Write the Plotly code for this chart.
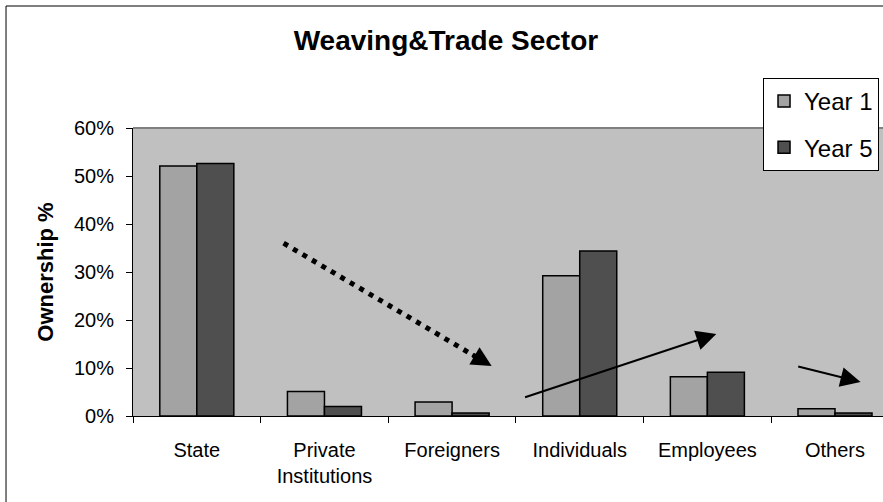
import plotly.graph_objects as go

# Ownership shares (fractions of 1)
categories = ["State", "Private<br>Institutions", "Foreigners", "Individuals", "Employees", "Others"]
year1 = [0.521, 0.051, 0.029, 0.292, 0.082, 0.015]
year5 = [0.526, 0.020, 0.006, 0.344, 0.091, 0.006]

# Trend arrows (tail x/y, head x/y) in data coordinates
dotted_arrow = (0.68, 0.36, 2.31, 0.104)
solid_arrows = [
    (2.56, 0.038, 4.07, 0.171),
    (4.70, 0.104, 5.20, 0.071),
]

FONT = "Liberation Sans, Arial, sans-serif"

fig = go.Figure()
fig.add_bar(
    x=categories, y=year1, name="Year 1", legendgroup="y1",
    marker=dict(color="#a3a3a3", line=dict(color="black", width=1.5)),
)
fig.add_bar(
    x=categories, y=year5, name="Year 5", legendgroup="y5",
    marker=dict(color="#4f4f4f", line=dict(color="black", width=1.5)),
)

fig.update_layout(
    width=883, height=502,
    margin=dict(l=133, r=0, t=128, b=86),
    paper_bgcolor="white", plot_bgcolor="#c0c0c0",
    font=dict(family=FONT, color="black", size=20),
    bargap=0.42, bargroupgap=0,
    title=dict(
        text="<b>Weaving&Trade Sector</b>", x=0.505, xref="container",
        y=0.92, yref="container", xanchor="center", yanchor="middle",
        font=dict(size=28, family=FONT),
    ),
    legend=dict(
        x=0.9947, xanchor="right", y=1.1736, yanchor="top",
        bgcolor="white", bordercolor="black", borderwidth=1,
        font=dict(size=24), tracegroupgap=12, traceorder="grouped",
    ),
    showlegend=True,
)

fig.update_xaxes(
    range=[-0.5, 5.376], showline=True, linecolor="black", linewidth=1,
    ticks="outside", tickson="boundaries", ticklen=6, tickcolor="black",
    showgrid=False, ticklabelstandoff=16,
)
fig.update_yaxes(
    range=[0, 0.6], dtick=0.1, tickformat=".0%",
    showline=True, linecolor="black", linewidth=1,
    ticks="outside", ticklen=6, tickcolor="black", showgrid=False,
    zeroline=False, ticklabelstandoff=8,
    title=dict(text="<b>Ownership %</b>", font=dict(size=22), standoff=14),
)

# plot-area top edge (grey) and outer chart frame (only left/top edges are in view)
fig.add_shape(type="line", xref="paper", yref="paper", x0=0, x1=1, y0=1, y1=1,
              line=dict(color="#808080", width=2))
fig.add_shape(type="line", xref="paper", yref="paper", x0=-0.1693, x1=-0.1693,
              y0=-0.5, y1=1.4236, line=dict(color="black", width=1))
fig.add_shape(type="line", xref="paper", yref="paper", x0=-0.1693, x1=1.1,
              y0=1.4236, y1=1.4236, line=dict(color="black", width=1))

# dotted trend arrow: dotted shaft + arrowhead
x0, y0, x1, y1 = dotted_arrow
fig.add_shape(type="line", x0=x0, y0=y0, x1=x0 + (x1 - x0) * 0.93, y1=y0 + (y1 - y0) * 0.93,
              line=dict(color="black", width=5, dash="5px,6px"))
fig.add_annotation(x=x1, y=y1, ax=x0 + (x1 - x0) * 0.9, ay=y0 + (y1 - y0) * 0.9,
                   axref="x", ayref="y", xref="x", yref="y", text="",
                   showarrow=True, arrowhead=2, arrowsize=1.0, arrowwidth=4, arrowcolor="black")
for x0, y0, x1, y1 in solid_arrows:
    fig.add_annotation(x=x1, y=y1, ax=x0, ay=y0, axref="x", ayref="y", xref="x", yref="y",
                       text="", showarrow=True, arrowhead=2, arrowsize=2, arrowwidth=2,
                       arrowcolor="black")

# page body has a default 8px margin; drop it so the figure sits at the origin
fig.write_html("out.html", config={"displayModeBar": False},
               post_script="document.body.style.margin='0';")
